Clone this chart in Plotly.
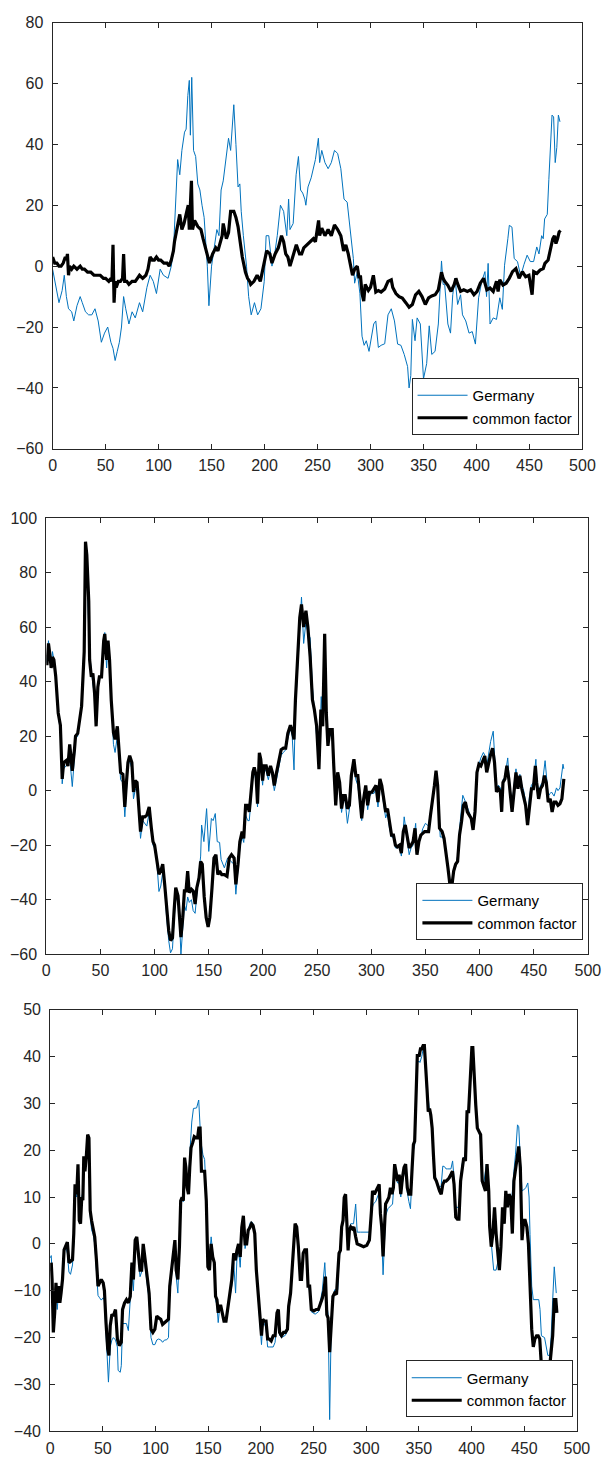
import plotly.graph_objects as go

# ---------------- Panel 1 ----------------
g1_x = [0,3,6,9,11,13,15,18,20,23,26,28,31,34,37,40,43,46,49,52,55,57,59,61,63,65,67,69,72,75,78,82,85,89,92,95,98,101.5,104.6,109,112,114,116,118,120,122,124.5,126,127.6,129,130,131.3,133,135,137,139,141,143,146,147.5,150,152,155,157,159,161,163,166,168,171,173,175,176.7,178,180,183,185,187.4,190.5,193.5,196.6,199.7,201.5,204,207,210,212,215,218,221,222.7,224,227,229.8,232,234,236,238,239,241,244,246,248,250.8,252,254,257,260,263,266,269,272,275,278,281,283.8,285,287.5,290,292,294,296,298.6,301.6,303,305,307.4,310,313.4,316.5,319.6,322.6,325.6,328.7,331.8,335,336.4,338,339.5,342,344,347,350,353,355.4,357.8,360.9,364,367,368.5,370,373,375.5,377.6,379.8,382.2,385,386.8,389.9,393,396,399,402,405,408,409.5,411,412.8,415.8,418.9,422,424.4,426.5,429.6,431,433.5,435.6,438.7,441.7,444.8,447.8,450.8,453.9,456.9,459,461.5,463,464.3,466.8,468.3,471.3,472.8,474.3,475.8,477.3,478.8]
g1_y = [-1,-6,-12,-8,-3,-10,-14,-15,-18,-13,-10,-12,-15,-16,-16,-14,-18,-25,-22,-20,-25,-27,-31,-28,-25,-20,-10,-14,-19,-15,-17,-12,-15,-7,-3,-5,-9,-1,-3,-4,0,5,20,35,30,38,44,45,56,61,43,62,38,36,27,25,20,16,0,-13,0,5,12,10,25,28,33,42,38,53,40,26,27,18,10,0,-10,-16,-12,-16,-14,-5,10,10,0,5,10,20,18,10,22,12,14,30,36,25,24,22,20,26,29,32,35,42,34,38,34,32,34,38,37,32,22,21,11,2.5,-5.6,-2,-9,-23,-26,-24.5,-28,-21,-19,-18,-26.7,-26,-25.5,-16,-14,-18,-25.6,-26,-29,-33,-40,-36,-17.5,-24.5,-17,-19,-37,-32,-19.6,-29,-28,-19,1.7,-6,-6,-19,-22,-9.4,-4,-12.6,-9.4,-16,-18,-22,-21.5,-25.6,-10.4,-5,-1.8,-10,0.9,-19,-17,-17.5,-10.4,-14.2,0.3,9,13.4,12.8,2.5,1.5,-3.3,0.5,3.6,1.5,1.5,6.3,4,10,9,15.5,17,28.5,49.6,49,34,39,49.6,47.4]

f1_x = [0,2,4,6,8,10,12,13,14,15,16,18,20,23,26,28,30,33,36,39,42,45,48,50,53,55,56,57,58,59,60,62,64,66,67,68,70,72,75,78,80,82,85,88,90,92,94,96,98,100,102,105,108,110,112,114,115,117,118,120,122,124,126,128,129,130,131,132,134,137,140,142,144,146,148,151,154,156,158,160,161,163,164,166,168,171,173,175,176,179,182,184,186,187,190,193,196,199,202,205,207,210,213,216,218,220,222,224,227,230,233,235,237,240,243,246,248,250,251,252,254,257,260,263,266,269,272,274.6,276.7,279,281.4,283,285,287.5,289,290.6,292,293.6,295,298,300,302.7,305,307.4,310,313.4,316.5,319.6,321,324,327,330,333.3,336.4,339.5,342.5,345.6,348.6,351.7,354.8,357.8,361,364,367,368.5,370,373,376,379,380.6,382,385,388,391.4,394.5,397.6,400.6,403.6,406.7,409.8,412.8,415.8,418.9,420.4,422,425,428,431,434,437.2,440.2,443.3,446.4,449.5,452.5,454,457,460,463,464.6,467.6,469,470.6,472,473.6,475,476.5,478,479.3]
f1_y = [3,1,1,0,0,1,3,2,4,-3,0,-1,0,-1,0,-1,-1,-2,-2,-3,-3,-3,-4,-4,-5,-4,-5,7,-12,-5,-7,-5,-5,-4,4,-5,-5,-6,-5,-5,-4,-3,-4,-3,-1,3,2,2,3,2,2,1,1,0,2,5,8,12,14,17,12,14,17,20,12,18,28,12,15,13,12,9,6,3,1,4,6,5,8,10,14,10,9,11,18,18,16,13,10,3,-2,-4,-5,-6,-5,-3,-5,0,5,4,1,4,6,10,8,4,3,0,4,7,4,4,6,7,8,9,8,12,15,10,12.5,10,12,10,13.5,12,10,5,7,4,-1,-3,-1,0,-3.5,-3.5,-9,-11.5,-6,-8,-7,-3,-8.5,-8,-8.5,-7.5,-5,-4.5,-7,-9,-10,-10.5,-12,-13.5,-12.6,-9.4,-8.3,-10,-12.6,-10.4,-9.8,-9.4,-7.8,-2,-4,-5,-6.3,-8.3,-6,-4,-5.6,-8.3,-7.8,-8.3,-7.8,-9.4,-8.3,-5.6,-4,-7.8,-7.2,-8.3,-5,-8.3,-4.5,-6.2,-5.6,-4,-1.8,-0.8,-4,-1.8,-3.5,-3,-9.4,-1.8,-2.4,-1.3,-0.8,0.9,2,4.7,6.3,9,10,7.4,9,11.2,11.7]

# ---------------- Panel 2 ----------------
g2_x = [0.6,2,3.3,4.5,5.7,7,8.7,11,13,14.7,16,18.3,20,21.6,23,24,26,27,29,30.5,32.6,35,36.2,37.4,39.2,40,41.6,43,44.6,46,47.6,49,51,53,54,55.7,57,58.4,60,62,63.5,65.6,67,68.6,70.7,72.5,74,75.4,77,79,80.5,82,83.8,85.3,87,89,91,92.8,95,97,98.5,100,102,104,105.7,107.5,109.3,111,113,114.7,116.5,118,119.5,121.6,123,124.3,126,127.5,129,130.5,132,134,135.6,137.4,139,141,142.5,143.4,145.5,148,150,152.4,154,156,157.8,160,161.4,164.4,167.4,170.5,173.4,175,177,178.7,180.8,182.3,184,186,187.4,189,190.7,192,193.7,195,196.7,198,199.7,201,203,205,207,208.7,210.5,212,214.7,216.8,218.9,221,223,225.4,227,228.7,230,232,234,235.6,237.6,239.7,241.5,243.6,245.7,247.5,248.8,251.7,253.8,255.2,257,258.5,260,261.8,264,265.4,267.2,269,270.8,272.6,274.4,276,278,279.8,281.6,284,285.8,287.6,289.4,291.2,293,294.9,296.7,298.4,300.5,302.6,304.4,306.2,308,309.7,311.5,313.3,315,316.9,318.7,320.5,322.3,324,326,327.8,330.4,332,333.2,335,336.8,338.6,341,342.2,344,345.8,347.5,350,352.9,354.7,356.5,358.3,359.8,361.3,363.7,365.4,367.2,369,370.8,372.6,374.4,376.1,377.9,379.7,381.5,383.3,384.5,386.9,388.7,390.5,392.3,394,395.8,397.6,399.4,401.2,403.5,404.8,406.6,408.4,410.2,412.6,413.8,415.6,417.4,419.2,420.4,421.6,423.4,426,427,428.8,430,431.8,433.6,435.4,437.2,439,440.7,442.5,444.3,446.1,447.9,449.7,452,452.7,454.5,456.3,458.1,460.5,461.6,463.4,465.2,466.4,468.8,471,472.4,474.2,477,477.8]
g2_y = [47,55,50,45,51,48,42,28,22,2.5,8,9,10,12,6,1.5,12,19,20,25,33,55,89,80,60,50,44,40,34,25,37,42,42,53,58,45,54,47,35,17,14,20,14,4,3,-9.6,0,9,11,8,-3,0,2,-6,-17.5,-11,-12,-13,-8,-15,-20,-21,-26,-37,-35,-30,-35,-46,-55,-59.5,-58,-47,-40,-40,-48,-60,-50,-42,-44,-39,-41,-40,-44,-45,-38,-31,-24,-12.6,-18.7,-6.6,-22.3,-10.2,-11,-8.4,-18.7,-19,-25.3,-28.3,-24.7,-26,-27,-38,-30,-21,-17,-19,-9,-11,-11,-3,5,7,3,-6,12,9,2,8,7,4,8,5,0,3,9,13,14,15,19,23,20,7.6,30,45,62,71,54,62,58,56,38,30,22,10,34.5,26,40,30,17,20,21,8,-4,5,1,-8,-3,-4,-12,-7,3,10,4,2,-5,-11,-4,1,-7,-2,-1,-1,1,-6,2,0,-5,-10,-8,-14,-17,-17,-21,-21,-20,-24,-9.6,-15,-18,-23.5,-21,-20,-12,-22,-19,-17,-14,-12,-13,-8,-3,2,7,1,-17,-17,-18,-22,-28,-34,-35.5,-30,-28,-24,-14,-8,-1.7,-4,-6,-8,-10,-13,-6,7,10,12,14,13,9,14,18,21.8,14,1,2,1,-5,4,5,12,6,-2,-6,2,8,2,6,2,0,-4,-10,-2,2,3,11.5,5,-1,2,3,11,5,-2,-1,-0.5,-2,1,0,1,9.7,8]

f2_x = [0.6,2,3.3,4.5,5.7,7,8.7,11,13,14.7,16,18.3,20,21.6,23,24,26,27,29,30.5,32.6,35,36.2,37.4,39.2,40,41.6,43,44.6,46,47.6,49,51,53,54,55.7,57,58.4,60,62,63.5,65.6,67,68.6,70.7,72.5,74,75.4,77,79,80.5,82,83.8,85.3,87,89,91,92.8,95,97,98.5,100,102,104,105.7,107.5,109.3,111,113,114.7,116.5,118,119.5,121.6,123,124.3,126,127.5,129,130.5,132,134,135.6,137.4,139,141,142.5,144,145.8,147.6,149.4,151,153,154.8,156.6,158.4,160,162,164.4,166.8,168.9,171,173.4,175,177,178.7,180.8,182.3,184,186,187.4,189,190.7,192,193.7,195,196.7,198,199.7,201,203,205,207,208.7,210.5,212,214.7,216.8,218.9,221,223,225.4,227,228.7,230,232,234,235.6,237.6,239.7,241.5,243.6,245.7,247.5,249.6,251.7,253.5,255.2,257,258.5,260,261.8,264,265.4,267.2,269,270.8,272.6,274.4,276,278,279.8,281.6,284,285.8,287.6,289.4,291.2,293,294.9,296.7,298.4,300.5,302.6,304.4,306.2,308,309.7,311.5,313.3,315,316.9,318.7,320.5,322.3,324,326,327.8,329.6,331.4,333.2,335,336.8,338.6,340.4,342.2,344,345.8,347.5,349.3,351.1,352.9,354.7,356.5,358.3,359.8,361.3,363,365.4,367.2,369,370.8,372.6,374.4,376.1,377.9,379.7,381.5,383.3,385.1,386.9,388.7,390.5,392.3,394,395.8,397.6,399.4,401.2,403,404.8,406.6,408.4,410.2,412,413.8,415.6,417.4,419.2,420.4,421.6,423.4,425.2,427,428.8,430,431.8,433.6,435.4,437.2,439,440.7,442.5,444.3,446.1,447.9,449.7,451.5,452.7,454.5,456.3,458.1,459.9,461.6,463.4,465.2,467,468.8,470.6,472.4,474.2,476,477.8]
f2_y = [46,54,50,45,49,48,42,28.5,24,4.3,10.3,11,9,17,11.6,7.3,15,20,21,26,31,51,91.3,86.5,69.5,48,41.7,43,35.7,23.6,38,41.7,41.7,55,57.5,48,55,48,33,21.3,18.8,23.6,15,6.7,6,-6,3,10.3,12.8,10.3,-0.5,3.7,3,-4,-15,-9.6,-9.6,-9,-6,-13.8,-18.7,-20,-24.7,-30.7,-29.5,-27,-34.4,-44,-51.3,-55,-54,-44,-35.6,-38.6,-46.5,-53.7,-46.5,-36.8,-36.8,-29.5,-37.4,-36.2,-36.8,-41.6,-35.6,-32,-26,-27,-39,-46.5,-50,-46.5,-35.6,-24.7,-23.5,-30.8,-29.5,-30.8,-30.8,-31.4,-24.7,-23.5,-24.7,-34.4,-27,-18.7,-15,-17.5,-5.4,-5.4,-7.8,-0.5,6.7,8.5,5.5,-4.8,13.9,11.5,3.7,9.1,9.1,5.5,9.1,6.7,1.9,5.5,10.3,15,15.6,15.6,21,24,22,18.8,33.3,47.8,63.5,68.3,60,66,60,49,33.3,29.7,23.6,7.9,29.7,23.6,57.5,28.5,16.4,22.4,22.4,9.1,-5.4,6.7,3,-6.6,-1.8,-1.8,-6.6,-5.4,5.5,11.5,5.5,5.5,-3,-10.2,-3,1.9,-5.4,-0.6,-0.6,0.6,1.9,-4.2,4.3,1.9,-3,-7.8,-6.6,-12.6,-16.3,-16.3,-20,-20.6,-20,-22.9,-15,-12.6,-17.5,-21,-20,-18.7,-13.8,-23.5,-18.7,-16.3,-15.7,-15,-15,-15,-9,-4,1.8,7.3,1.8,-13.8,-15,-17.5,-22.3,-28.3,-34.4,-35,-29.5,-27,-26,-16.3,-11.5,-5.4,-4.2,-7.8,-9,-10.2,-14.4,-7.8,6.7,9.7,9.1,10.9,12.7,6.7,10.3,13.3,15.6,10.3,-0.5,0.7,-0.5,-7.8,3,4.3,9.1,4.3,-3,-7.8,-0.5,6.7,0.7,5.5,0.7,-1.8,-5.4,-12.6,-4.2,0.7,0.7,9.1,3,-3,0.7,1.9,5.5,3,-4.2,-3,-7.8,-4.2,-4.2,-5.4,-4.8,-3,4.3]

# ---------------- Panel 3 ----------------
g3_x = [0,1,1.8,3,4.3,5.5,6.7,8,9.2,10.4,11.7,13.2,14.7,16.3,17.8,19.3,21.2,22.4,23.6,25.2,26.4,27.6,28.8,30,31,31.9,33,34.4,35.6,36.8,38,39.3,40.8,42.3,43.9,45.4,46.9,48.5,50.3,51.5,53,54.6,55.3,57,58.6,60,62,63.8,64.5,66.5,67.5,68.7,70.6,72.4,74.2,76,77.6,79,80.7,82.2,83.7,85.3,86.8,88.3,90.2,92,93.9,95.7,97.5,99.4,101.2,103,105,106.7,108.6,110.4,112.3,113.5,115.3,117.2,118.4,119.6,121.2,122.7,123.9,125.2,126.4,127.6,128.8,130,131.3,132.5,134.4,136,139,141,143,145,146.6,148.2,149.7,151.2,152.8,154.3,155.8,157,158.3,159.5,160.7,162,163.5,165,166.9,168.7,170.6,172.4,174.2,176,177.3,178.8,180.4,181.9,183.4,185,186.5,188,190,192,194.2,195.7,197,198.2,199.4,200.6,201.8,203.4,204.9,206.4,208,209.8,211.7,213.5,215.3,216.6,217.8,219.6,221.5,223.3,225.2,226.4,228.2,229.4,231,232.5,234,235.6,237.4,238.6,240.2,241.7,243.3,244.8,246.3,247.9,251.5,254.6,256,258.3,260.7,262.6,263.8,265.3,266.9,268.4,270,273,274.2,275.5,276.7,278,279.1,280.4,281.6,282.8,285.3,288,290,291.4,294.5,300.6,303,305,306.7,309,311.3,312.3,313.5,314.7,316,317.2,318.4,320.6,323,325,327,328.2,329.8,331.3,332.8,334.4,335.9,337.4,339,340.5,342,343.6,344.8,346,347.2,348.5,350.3,351,352.7,354,355.2,356.4,357.7,359,360.1,361.3,362.6,363.8,365,366.6,368.1,369.6,371.2,372.7,374.2,375.8,377.3,378.8,380.4,382,383.4,385,386.5,388,389.6,391.1,392.6,394.2,395.7,397.2,398.8,400.3,401.2,403.5,405.5,407,408.6,410.1,411.7,414,416.3,417.2,418.7,421,423.3,424.8,426.4,427.9,429.4,431,432.5,434,435.6,438,440.2,441.7,443.6,444.8,446.3,447.9,449.4,451.5,453.4,454.6,455.5,457.1,458.6,461.7,463.8,465,466.3,469.3,472.4,474.2,475.5,477,478.5,480.4]
g3_y = [-3,-2.5,-6,-17,-12,-9,-14,-10,-12,-11,-7,-2,-0.5,-2,-6,-6.5,-4.5,0,11,10,16,6,5,10,11,18,16,20,22,21,6,3,2,0,-5,-11,-11.5,-12,-11.5,-12,-19,-25,-29.5,-22,-20.5,-20,-20.5,-22,-27,-27.4,-26,-17,-17,-17,-18.5,-13,-6,-10,-1,1,-3,-7,-6,-1,-5,-9,-12,-20,-21.5,-21.5,-20.5,-20.3,-20.5,-21,-20.5,-20.5,-20,-11,-6,-2,-0.5,-7,-10.5,-2,8,9.5,9,18,17,13,12,19,26,28.9,29,30.7,21.9,19,18,10,-3,-3,1.5,-2,-5,-12,-13,-16.8,-14,-14,-15,-16.5,-16.5,-14,-11,-9,-4,-10.5,-3,-1,-5,2,5,-1,1,3,4.6,4.6,3,-6,-10,-14,-18,-21.5,-17,-17,-18,-22,-22,-22,-22,-21,-16,-15,-19.5,-20,-19.7,-19.5,-18.5,-14,-11,-6,-1,3.5,3,-1,-7,-7,-2,-1.5,-2,-9,-10,-14.5,-15,-14.5,-13,-10,-4,-13,-15,-37.5,-15.5,-12,-9.8,-9.8,-3,-1.5,2,4,8,8.5,5,1,4.3,4.3,8.5,2.5,2.5,2.5,2.5,7,8.5,9,10.5,11,6,2,-6.6,2,6,7.5,8,8.5,15,14,13,13,10,13,15,16,11,9,7.5,15,20,21,29,38.7,39,38.7,40,41.5,41.5,37,31,31,28,27,24,19,15,13.5,12.5,12,12.5,16.6,16.5,16,16,16,16,17.7,14,7.8,7.8,7.8,14,17,18.5,18,28.5,28.5,34,41.5,41,31.5,25,24,22,14,13,17,12,4,-0.6,-5.6,-5.6,-4,-4.5,-1,7,5,10,8,10,9,15.5,19,25.4,25,18,11.3,11.5,12,13,10,2,-9,-11.9,-11.9,-11.9,-14,-19.6,-20,-23.8,-23.8,-20,-12,-4.9,-10.5]

f3_x = [1,1.8,3,4.3,5.5,6.7,8,9.2,10.4,11.7,13.2,14.7,16.3,17.8,19.3,21.2,22.4,23.6,25.2,26.4,27.6,28.8,30,31,31.9,33,34.4,35.6,36.8,38,39.3,40.8,42.3,43.9,45.4,46.9,48.5,50.3,51.5,53,54.6,55.8,57,58.6,60,62,63.8,65.6,67.5,68.7,70.6,72.4,74.2,76,77.6,79,80.7,82.2,83.7,85.3,86.8,88.3,90.2,92,93.9,95.7,97.5,99.4,101.2,103,105,106.7,108.6,110.4,112.3,113.5,115.3,117.2,118.4,119.6,121.2,122.7,123.9,125.2,126.4,127.6,128.8,130,131.3,132.5,133.7,135.3,136.8,138.7,139.9,141.1,142.3,143.6,145,146.6,148.2,149.7,151.2,152.8,154.3,155.8,157,158.3,159.5,160.7,162,163.5,165,166.9,168.7,170.6,172.4,174.2,175.8,177.3,178.8,180.4,181.9,183.4,185,186.5,188,189.6,191.1,192.6,194.2,195.7,197,198.2,199.4,200.6,201.8,203.4,204.9,206.4,208,209.8,211.7,213.5,215.3,216.6,217.8,219.6,221.5,223.3,225.2,226.4,228.2,229.4,231,232.5,234,235.6,237.4,238.6,240.2,241.7,243.3,244.8,246.3,247.9,250.3,252.5,254.6,256,258.3,260,261.3,262.6,263.8,265.3,266.9,268.4,270,271.8,273,274.2,275.5,276.7,278,279.1,280.4,281.6,282.8,284,285.3,286.8,288.3,290,291.4,294.5,297.5,300.6,303,305,306,307.7,309.2,310.7,312.3,313.5,314.7,316,317.2,318.4,320,321.5,323,324.5,325.8,327,328.2,329.8,331.3,332.8,334.4,335.9,337.4,339,340.5,342.3,343.6,344.8,346,347.2,348.5,350.3,351.5,352.7,354,355.2,356.4,357.7,358.9,360.1,361.3,362.6,363.8,365,366.6,368.1,369.6,371.2,372.7,374.2,375.8,377.3,378.8,380.4,381.9,383.4,385,386.5,388,389.6,391.1,392.6,394.2,395.7,397.2,398.8,400.3,401.2,402.5,404,405.5,407,408.6,410.1,411.7,413.2,414.7,416.3,417.2,418.7,420.2,421.8,423.3,424.8,426.4,427.9,429.4,431,432.5,434,435.6,437.1,438.7,440.2,441.7,443.3,444.8,446.3,447.9,449.4,450.9,452.5,454,455.5,457.1,458.6,460.1,461.7,463.2,464.7,466.3,467.8,469.3,470.9,472.4,474,475.5,477,478.5,480,481]
f3_y = [-4,-7.6,-18.9,-14.7,-8.3,-12.6,-9,-12.6,-10.4,-7.6,-1.3,-0.6,0.4,-4,-3.7,-3.4,2.2,12.7,10.6,17,5,4.3,10,9.3,18.7,15.5,19,23.3,22.6,7.1,5,2.9,1.5,-3.4,-9,-8.3,-7.6,-8.3,-10,-16.8,-22.4,-23.8,-17.5,-15,-15.4,-14,-20.3,-21.7,-21,-14,-12.6,-11.9,-12.6,-11.2,-4,-7.6,0.8,1.5,-2,-5.6,-5.6,0,-3.5,-7,-10.5,-18.2,-18.9,-18.2,-15.4,-15.8,-16.1,-17.2,-16.8,-16.5,-16.1,-9,-4.9,-1.3,0.8,-5.6,-7.6,-0.6,9.2,9.9,9.2,18.4,16.3,12,10.6,16.3,20.5,21.6,22.9,22.6,22.6,24.7,24.7,15.5,15.5,15.5,9.2,-4.9,-5.6,0,-2.8,-4,-11.2,-11.9,-14.7,-13.3,-13.3,-14.7,-16.5,-16.5,-13.3,-9.8,-7.6,-2,-3.5,-1.4,0,-2.8,3.5,6,0,0,2.9,3.5,4.3,3.9,2.2,-5.6,-9,-11.9,-16.8,-19.6,-16.1,-16.5,-16.5,-20.3,-20.3,-20.7,-19.6,-19.6,-14.7,-14,-18.9,-19.6,-18.9,-18.9,-18.2,-13.3,-10.5,-5.6,0,4.3,3.6,-0.6,-7.6,-7.6,-2,-1.3,-1.3,-9,-9,-14,-14.3,-14,-14,-13,-11.6,-9.8,-7,-15.1,-15.8,-23.1,-16.8,-11.2,-10.5,-10.8,-6.3,-2,-1.4,3.6,5,9.9,10.6,3.6,-1.4,2.9,3.6,3.2,3.6,1.5,0,-0.3,-0.6,-0.3,0.8,7.1,11.3,10.6,11.3,12,12.7,6.4,3.6,-2.7,3.6,8.5,9.2,9.9,12,10.6,12,17,15.5,13.4,14.8,10.6,14.1,16.3,17,12,10.6,10.6,16.3,21.2,21.9,30.3,40.2,40.2,41.6,41.6,42.3,42.3,38.7,33.1,28.2,28.9,27.5,24.7,19,14.1,13.4,12,11.3,10.6,12.7,13.4,13.4,13.7,14.1,14.8,15.5,12.7,5.7,5.3,5.3,13.4,16.3,18.4,17.7,28.2,28.2,34.5,41.9,41.9,34.5,29.6,24.7,24,23.3,13.4,12,11.3,17,11.3,3.6,-0.6,2.2,7.8,2.2,-2.7,-5.6,-0.6,7.8,4.3,11.3,7.8,10.6,9.9,2.2,13.4,16.3,18.4,20.8,16.3,0.8,5,5,3.6,0,-9,-18.2,-22,-20.3,-19.6,-19.6,-20.3,-26,-26.6,-26.6,-26.6,-26.6,-26.6,-23.1,-19.6,-11.9,-11.9,-14.7]

SERIES_NAMES = ["Germany", "common factor"]
Y_RANGES = [[-60, 80], [-60, 100], [-40, 50]]
Y_DTICKS = [20, 20, 10]
X_RANGE = [0, 500]

W, H = 611, 1468
BLUE = "#0072BD"
AXC = "#262626"
FONT = "Liberation Sans, Arial, sans-serif"

# pixel boxes (left, right, top, bottom) for each panel
boxes = [(50, 595, 14.7, 446), (43.5, 600.6, 516, 957.3), (47.5, 589.3, 1013.3, 1440)]
# legend right edge / bottom edge in pixels
legend_pos = [(591, 432), (596, 943), (585, 1426)]

data = [(g1_x, g1_y, f1_x, f1_y), (g2_x, g2_y, f2_x, f2_y), (g3_x, g3_y, f3_x, f3_y)]

fig = go.Figure()
for i, (gx, gy, fx, fy) in enumerate(data):
    sfx = "" if i == 0 else str(i + 1)
    leg = "legend" + sfx
    fig.add_trace(go.Scatter(x=gx, y=gy, mode="lines", name=SERIES_NAMES[0],
                             line=dict(color=BLUE, width=1), xaxis="x" + sfx, yaxis="y" + sfx,
                             legend=leg))
    fig.add_trace(go.Scatter(x=fx, y=fy, mode="lines", name=SERIES_NAMES[1],
                             line=dict(color="black", width=3.2), xaxis="x" + sfx, yaxis="y" + sfx,
                             legend=leg))

layout = dict(width=W, height=H, margin=dict(l=0, r=0, t=0, b=0),
              paper_bgcolor="white", plot_bgcolor="white",
              font=dict(family=FONT, size=15, color=AXC))

for i, (l, r, t, b) in enumerate(boxes):
    sfx = "" if i == 0 else str(i + 1)
    axcommon = dict(showline=True, linecolor=AXC, linewidth=1, mirror="ticks",
                    ticks="inside", ticklen=5, tickcolor=AXC, showgrid=False,
                    zeroline=False, tickfont=dict(family=FONT, size=16, color=AXC))
    layout["xaxis" + sfx] = dict(domain=[l / W, r / W], range=X_RANGE, dtick=50, tick0=0,
                                 anchor="y" + sfx, ticklabelstandoff=2, **axcommon)
    layout["yaxis" + sfx] = dict(domain=[1 - b / H, 1 - t / H], range=Y_RANGES[i],
                                 dtick=Y_DTICKS[i], anchor="x" + sfx, ticklabelstandoff=5,
                                 **axcommon)
    lx, ly = legend_pos[i]
    layout["legend" + sfx] = dict(x=lx / W, y=1 - ly / H, xanchor="right", yanchor="bottom",
                                  bgcolor="white", bordercolor=AXC, borderwidth=1,
                                  font=dict(family=FONT, size=15, color="black"),
                                  tracegroupgap=0, itemwidth=50)

fig.update_layout(**layout)
fig.write_html("out.html")
